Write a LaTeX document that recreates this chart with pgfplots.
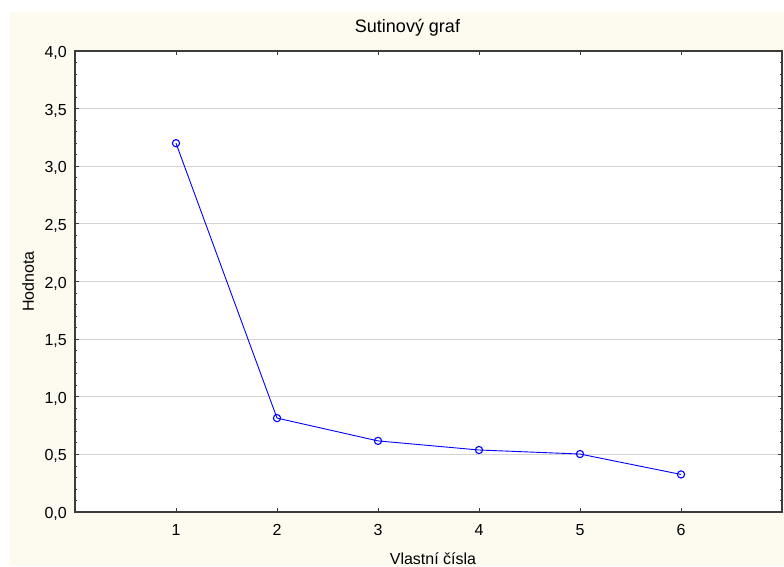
\documentclass[border=0pt]{standalone}
\usepackage{pgfplots}
\pgfplotsset{compat=1.18}
\usepackage{fontspec}
\setmainfont{Liberation Sans}
\definecolor{cream}{RGB}{253,250,240}
\definecolor{gridgray}{RGB}{212,212,212}
\definecolor{axgray}{RGB}{60,60,60}
\begin{document}
\begin{tikzpicture}[font=\fontsize{16pt}{19pt}\selectfont]
\fill[white] (-75pt,-54pt) rectangle (709pt,512pt);
\fill[cream] (-65pt,-54pt) rectangle (709pt,500pt);
\begin{axis}[
  at={(0pt,0pt)}, anchor=south west,
  scale only axis, width=707pt, height=461pt,
  axis background/.style={fill=white},
  xmin=0, xmax=7, ymin=0, ymax=4,
  xtick={1,2,3,4,5,6},
  ytick={0,0.5,...,4},
  minor y tick num=4,
  tick align=inside,
  major tick length=4pt, minor tick length=2.5pt,
  every tick/.style={axgray, line width=0.8pt},
  axis line style={axgray, line width=1.2pt},
  ymajorgrids, major grid style={gridgray, line width=0.8pt},
  /pgf/number format/assume math mode=true,
  tick label style={font=\fontsize{16pt}{19pt}\selectfont, inner sep=0pt},
  label style={font=\fontsize{16pt}{19pt}\selectfont, inner sep=0pt},
  yticklabel style={/pgf/number format/.cd, fixed, fixed zerofill, precision=1, use comma, /tikz/.cd, anchor=base east, xshift=-8pt, yshift=-6.5pt},
  xticklabel style={anchor=base, yshift=-23pt},
  title={Sutinový graf},
  title style={font=\fontsize{18pt}{21pt}\selectfont, inner sep=0pt, at={(axis description cs:0.5,1)}, anchor=base, yshift=13pt, xshift=-21pt},
  xlabel={Vlastní čísla},
  xlabel style={at={(axis description cs:0.5,0)}, anchor=base, yshift=-52pt, xshift=4.5pt},
  ylabel={Hodnota},
  ylabel style={at={(axis description cs:0,0.5)}, anchor=base, yshift=41pt},
  clip=false,
]
\addplot[color={rgb,255:red,0;green,0;blue,255}, line width=0.9pt, mark=o, mark size=3.6pt, mark options={line width=1.1pt}]
  coordinates {(1,3.20) (2,0.815) (3,0.617) (4,0.538) (5,0.503) (6,0.326)};
\end{axis}
\end{tikzpicture}
\end{document}
